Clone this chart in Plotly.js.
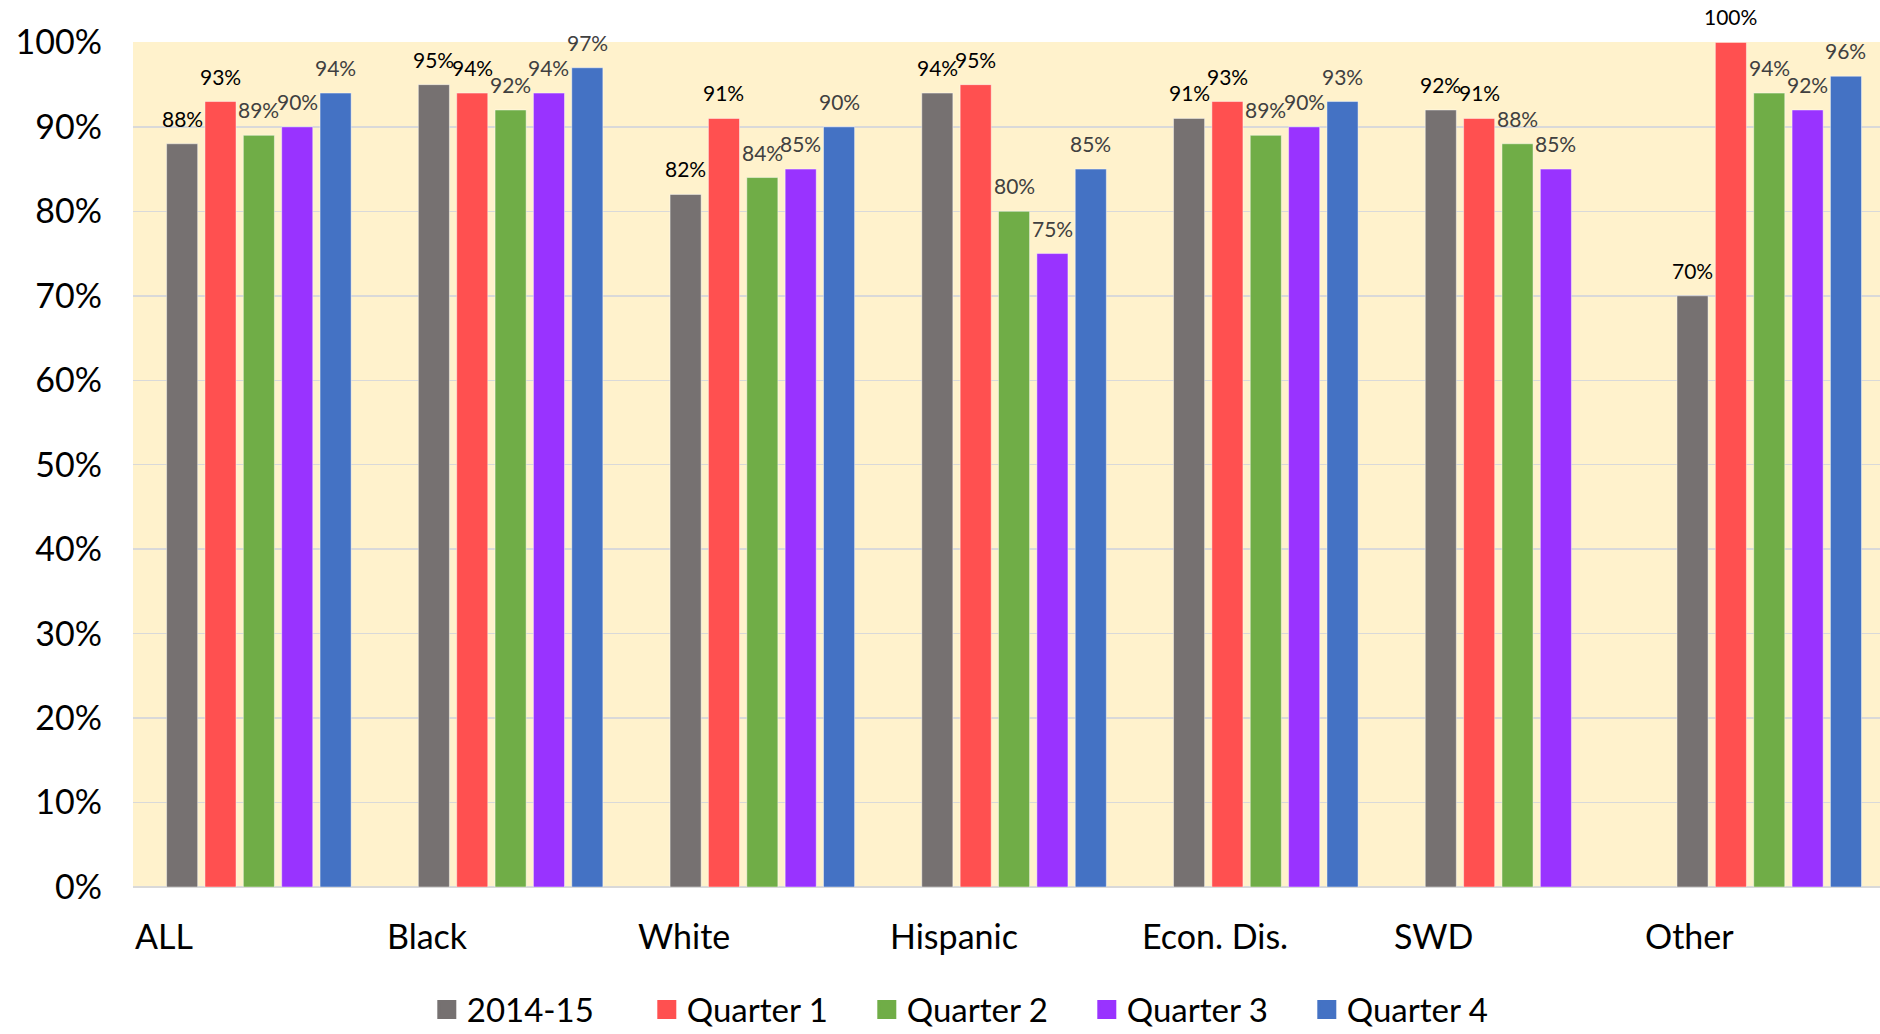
<!DOCTYPE html>
<html>
<head>
<meta charset="utf-8">
<script src="https://cdn.plot.ly/plotly-3.0.1.min.js"></script>
<style>
  html, body { margin: 0; padding: 0; background: #ffffff; overflow: hidden; }
  #chart { width: 1880px; height: 1034px; }
</style>
</head>
<body>
<div id="chart"></div>
<script>
// ---- data ----
const categories = ["ALL", "Black", "White", "Hispanic", "Econ. Dis.", "SWD", "Other"];
const seriesNames = ["2014-15", "Quarter 1", "Quarter 2", "Quarter 3", "Quarter 4"];
const v2014_15  = [88, 95, 82, 94, 91, 92, 70];
const quarter1  = [93, 94, 91, 95, 93, 91, 100];
const quarter2  = [89, 92, 84, 80, 89, 88, 94];
const quarter3  = [90, 94, 85, 75, 90, 85, 92];
const quarter4  = [94, 97, 90, 85, 93, null, 96];
const yTicks = [0, 10, 20, 30, 40, 50, 60, 70, 80, 90, 100];

// ---- styles ----
const seriesValues = [v2014_15, quarter1, quarter2, quarter3, quarter4];
const colors = ["#767171", "#FF5050", "#70AD47", "#9933FF", "#4472C4"];
const labelColors = ["#000000", "#000000", "#404040", "#404040", "#404040"];
const FONT = "Lato, 'Open Sans', sans-serif";
const BARGAP = 0.238;
const nSeries = seriesValues.length;

const traces = seriesValues.map((vals, i) => ({
  type: "bar",
  name: seriesNames[i],
  x: categories,
  y: vals,
  marker: { color: colors[i], line: { color: "rgba(255,255,255,0.45)", width: 1 } },
  showlegend: false,
  hoverinfo: "x+y+name"
}));

// legend-only entries with larger square symbols
seriesNames.forEach((n, i) => {
  traces.push({
    type: "scatter",
    mode: "markers",
    name: n,
    x: [null], y: [null],
    marker: { symbol: "square", size: 16, color: colors[i], line: { color: colors[i], width: 3 } },
    showlegend: true,
    hoverinfo: "skip"
  });
});

// category labels, left-aligned at the start of each category band
const annotations = categories.map((c, i) => ({
  xref: "x", yref: "paper",
  x: i - 0.5, y: 0,
  xanchor: "left", yanchor: "middle",
  yshift: -48,
  text: c,
  showarrow: false,
  font: { family: FONT, size: 34, color: "#000000" }
}));

// data labels above each bar
const slot = (1 - BARGAP) / nSeries;
seriesValues.forEach((vals, s) => {
  const off = -(1 - BARGAP) / 2 + slot * (s + 0.5);
  vals.forEach((v, ci) => {
    if (v == null) return;
    annotations.push({
      xref: "x", yref: "y",
      x: ci + off, y: v,
      xanchor: "center", yanchor: "bottom",
      yshift: 11,
      text: v + "%",
      showarrow: false,
      font: { family: FONT, size: 21, color: labelColors[s] }
    });
  });
});

const layout = {
  width: 1880,
  height: 1034,
  margin: { l: 133, r: 0, t: 42, b: 147, autoexpand: false },
  paper_bgcolor: "#ffffff",
  plot_bgcolor: "#FFF2CC",
  barmode: "group",
  bargap: BARGAP,
  bargroupgap: 0.19,
  xaxis: {
    type: "category",
    range: [-0.5, 6.44],
    showticklabels: false,
    showgrid: false,
    zeroline: false,
    showline: false,
    fixedrange: true
  },
  yaxis: {
    range: [0, 100.05],
    tickvals: yTicks,
    ticktext: yTicks.map(t => t + "%"),
    showgrid: true,
    gridcolor: "#D9D9D9",
    gridwidth: 1.5,
    zeroline: true,
    zerolinecolor: "#D9D9D9",
    zerolinewidth: 2.5,
    showline: false,
    ticks: "",
    ticklabelstandoff: 30,
    tickfont: { family: FONT, size: 34, color: "#000000" },
    fixedrange: true
  },
  legend: {
    orientation: "h",
    x: 0.483, xanchor: "center",
    y: -0.145, yanchor: "middle",
    entrywidth: 175,
    font: { family: FONT, size: 33, color: "#000000" },
    itemclick: false,
    itemdoubleclick: false,
    bgcolor: "rgba(0,0,0,0)"
  },
  annotations: annotations,
  showlegend: true
};

Plotly.newPlot("chart", traces, layout, { displayModeBar: false, staticPlot: true });
</script>
</body>
</html>
